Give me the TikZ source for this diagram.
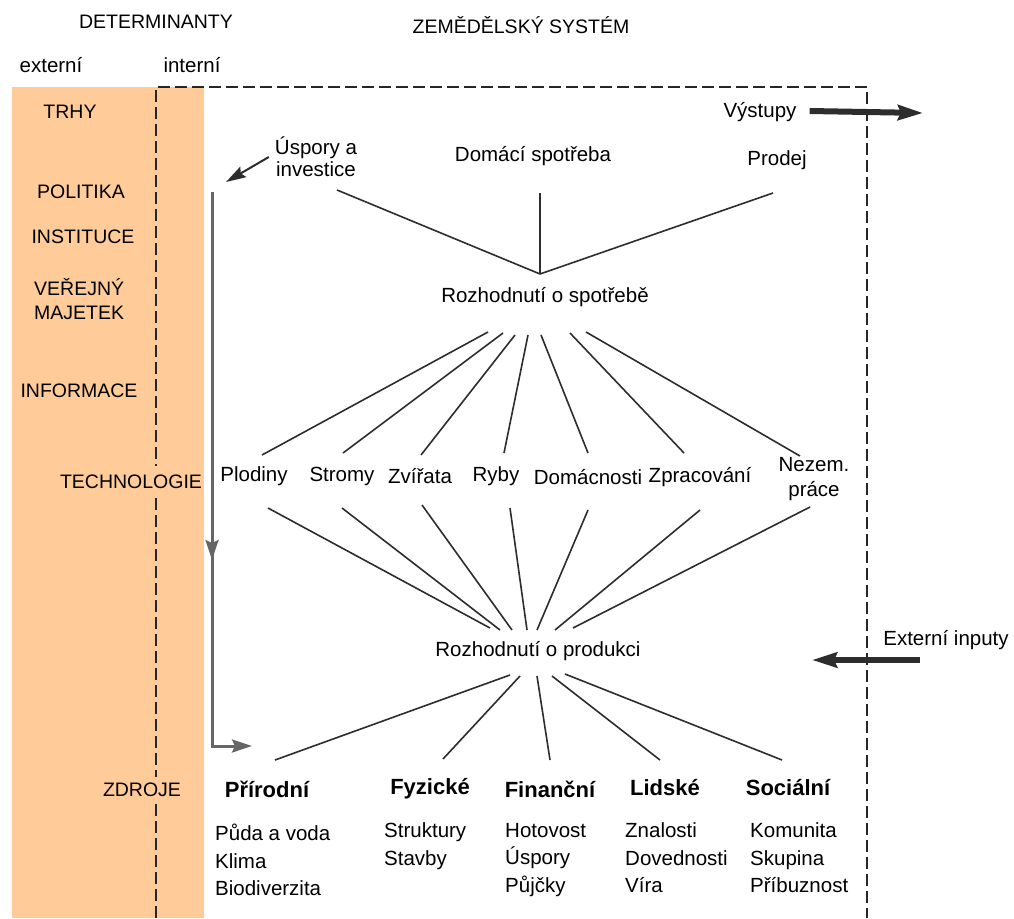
\documentclass[tikz,border=0pt]{standalone}
\usepackage{fontspec}
\setmainfont{Liberation Sans}
\usetikzlibrary{arrows.meta}
\definecolor{band}{RGB}{255,204,153}
\definecolor{ink}{RGB}{45,45,45}
\begin{document}
\begin{tikzpicture}[x=1pt,y=-1pt,
  txt/.style={inner sep=0pt,font=\fontsize{20.5}{25}\selectfont},
  capsl/.style={inner sep=0pt,font=\fontsize{19.5}{24}\selectfont},
  hd/.style={inner sep=0pt,font=\fontsize{22}{26}\selectfont\bfseries},
  lst/.style={inner sep=0pt,anchor=west,align=left,font=\fontsize{20.5}{27.5}\selectfont},
  conn/.style={draw=ink,line width=1.6pt},
  garrow/.style={draw=black!60,line width=3pt,-{Stealth[length=20pt,width=13pt,inset=3pt]}},
  darrow/.style={draw=ink,line width=2pt,-{Stealth[length=20pt,width=12pt,inset=3pt]}},
  bigarrow/.style={draw=ink,line width=6pt,-{Stealth[length=25pt,width=15pt,inset=3pt]}},
  framedash/.style={draw=black!85,line width=1.6pt,dash pattern=on 12pt off 5pt}]
\useasboundingbox (0,0) rectangle (1014,918);
\fill[white] (0,0) rectangle (1014,918);
% orange band
\fill[band] (12,87) rectangle (204,918);
% frame
\draw[framedash] (156,918) -- (156,87) -- (867,87) -- (867,918);
% headers
\node[capsl] (hdet) at (156,22) {DETERMINANTY};
\node[capsl] (hzem) at (521,25) {ZEMĚDĚLSKÝ SYSTÉM};
\node[txt] (hext) at (51,65) {externí};
\node[txt] (hint) at (192,65) {interní};
% left labels
\node[capsl] (trhy) at (70,112) {TRHY};
\node[capsl] (pol) at (81,192) {POLITIKA};
\node[capsl] (inst) at (83,237) {INSTITUCE};
\node[capsl,anchor=west,align=left] (vm) at (34,299) {VEŘEJNÝ\\MAJETEK};
\node[capsl] (info) at (79,391) {INFORMACE};
\node[capsl,fill=band,inner ysep=9pt,inner xsep=1pt] (tech) at (131,482) {TECHNOLOGIE};
\node[capsl,fill=band,inner ysep=6pt,inner xsep=1pt] (zdr) at (142,790) {ZDROJE};
% top row
\node[txt] (vys) at (760,112) {Výstupy};
\coordinate (vysend) at (923,113);
\draw[bigarrow] ([xshift=13pt,yshift=1pt]vys.east) -- (vysend);
\node[txt,align=center,font=\fontsize{20.5}{22}\selectfont] (usp) at (316,157) {Úspory a\\investice};
\coordinate (uspend) at (226,182);
\draw[darrow] ([xshift=-6pt]usp.west) -- (uspend);
\node[txt] (dom) at (533,156) {Domácí spotřeba};
\node[txt] (prod) at (777,160) {Prodej};
\coordinate (j1) at (540,274);
\coordinate (u1) at (337,190);
\coordinate (u2) at (540,193);
\coordinate (u3) at (773,193);
\draw[conn] (u1) -- (j1);
\draw[conn] (u2) -- (j1);
\draw[conn] (u3) -- (j1);
\node[txt] (spot) at (545,297) {Rozhodnutí o spotřebě};
% vertical internal arrow
\coordinate (vtop) at (212,192);
\coordinate (vmid) at (212,560);
\coordinate (vcorner) at (212,746);
\coordinate (vend) at (252,746);
\draw[garrow] (vtop) -- (vmid);
\draw[garrow] (212,545) -- (vcorner) -- (vend);
% middle row
\node[txt] (plod) at (254,476) {Plodiny};
\node[txt] (strom) at (342,476) {Stromy};
\node[txt] (zvir) at (420,476) {Zvířata};
\node[txt] (ryby) at (496,476) {Ryby};
\node[txt] (domac) at (588,477) {Domácnosti};
\node[txt] (zprac) at (700,477) {Zpracování};
\node[txt,align=center] (nezem) at (814,479) {Nezem.\\práce};
% fan spotreba -> items
\coordinate (a1) at (488,332); \coordinate (b1) at (262,455);
\coordinate (a2) at (503,333); \coordinate (b2) at (343,453);
\coordinate (a3) at (515,335); \coordinate (b3) at (421,455);
\coordinate (a4) at (528,335); \coordinate (b4) at (504,453);
\coordinate (a5) at (541,335); \coordinate (b5) at (588,453);
\coordinate (a6) at (570,333); \coordinate (b6) at (684,453);
\coordinate (a7) at (586,332); \coordinate (b7) at (800,456);
\foreach \i in {1,...,7} {\draw[conn] (a\i) -- (b\i);}
% fan items -> produkce
\coordinate (c1) at (268,508); \coordinate (d1) at (490,628);
\coordinate (c2) at (342,508); \coordinate (d2) at (500,630);
\coordinate (c3) at (422,505); \coordinate (d3) at (512,630);
\coordinate (c4) at (510,508); \coordinate (d4) at (527,630);
\coordinate (c5) at (588,510); \coordinate (d5) at (537,630);
\coordinate (c6) at (700,510); \coordinate (d6) at (555,630);
\coordinate (c7) at (810,507); \coordinate (d7) at (573,628);
\foreach \i in {1,...,7} {\draw[conn] (c\i) -- (d\i);}
\node[txt] (prd) at (538,651) {Rozhodnutí o produkci};
% external inputs
\node[txt] (ext) at (946,640) {Externí inputy};
\coordinate (extstart) at (920,660);
\coordinate (extend) at (812,660);
\draw[bigarrow] (extstart) -- (extend);
% fan produkce -> resources
\coordinate (e1) at (510,675); \coordinate (f1) at (275,760);
\coordinate (e2) at (520,676); \coordinate (f2) at (443,759);
\coordinate (e3) at (537,676); \coordinate (f3) at (550,760);
\coordinate (e4) at (552,676); \coordinate (f4) at (660,760);
\coordinate (e5) at (565,674); \coordinate (f5) at (782,760);
\foreach \i in {1,...,5} {\draw[conn] (e\i) -- (f\i);}
% resources
\node[hd] (hnat) at (267,789) {Přírodní};
\node[hd] (hphy) at (430,789) {Fyzické};
\node[hd] (hfin) at (550,789) {Finanční};
\node[hd] (hhum) at (665,788) {Lidské};
\node[hd] (hsoc) at (788,788) {Sociální};
\node[lst] (nat) at (215,860) {Půda a voda\\Klima\\Biodiverzita};
\node[lst] (phy) at (384,846) {Struktury\\Stavby};
\node[lst] (fin) at (505,860) {Hotovost\\Úspory\\Půjčky};
\node[lst] (hum) at (625,858) {Znalosti\\Dovednosti\\Víra};
\node[lst] (soc) at (750,858) {Komunita\\Skupina\\Příbuznost};
\end{tikzpicture}
\end{document}
